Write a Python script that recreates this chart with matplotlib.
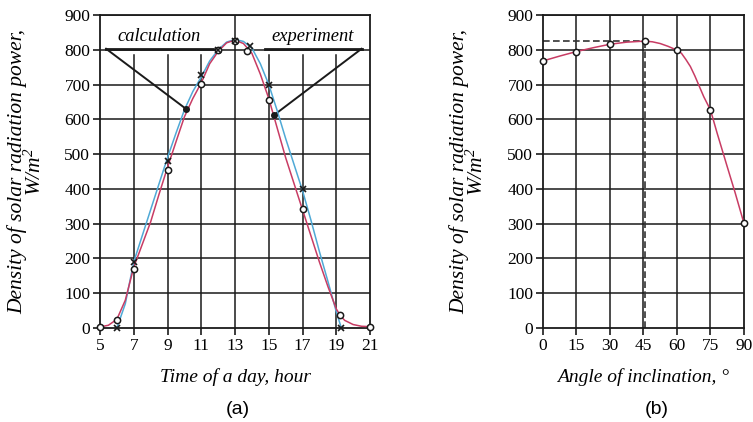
import numpy as np
import matplotlib.pyplot as plt

plt.rcParams['mathtext.fontset'] = 'custom'
plt.rcParams['mathtext.it'] = 'Liberation Serif:italic'
plt.rcParams['mathtext.rm'] = 'Liberation Serif:italic'

# --- panel (a): hourly readings ---
exp_hour = [5, 6, 7, 9, 11, 12, 13, 13.7, 15, 17, 19.24, 21]
exp_power = [3, 22, 170, 455, 701, 800, 825, 797, 655, 342, 37, 4]
calc_hour = [6, 7, 9, 11, 12, 13, 13.9, 15, 17, 19.3]
calc_power = [0, 190, 480, 727, 800, 825, 812, 700, 400, 0]

# traced curves
exp_curve_x = [5, 5.5, 6, 6.5, 7, 7.5, 8, 8.5, 9, 9.5, 10, 10.5, 11, 11.5, 12, 12.5, 13,
               13.5, 14, 14.5, 15, 15.5, 16, 16.5, 17, 17.5, 18, 18.5, 19, 19.25, 19.5, 20, 20.5, 21]
exp_curve_y = [3, 8, 25, 80, 175, 240, 305, 385, 462, 535, 607, 660, 705, 760, 795, 820, 828,
               818, 790, 730, 660, 575, 490, 415, 340, 265, 190, 120, 55, 35, 22, 10, 5, 4]
calc_curve_x = [6, 6.5, 7, 7.5, 8, 8.5, 9, 9.5, 10, 10.5, 11, 11.5, 12, 12.5, 13,
                13.5, 14, 14.5, 15, 15.5, 16, 16.5, 17, 17.5, 18, 18.5, 19, 19.3]
calc_curve_y = [0, 70, 190, 265, 340, 415, 490, 560, 627, 680, 722, 768, 800, 822, 830,
                824, 805, 760, 700, 625, 545, 470, 395, 310, 220, 135, 47, 0]

hour_ticks = [5, 7, 9, 11, 13, 15, 17, 19, 21]
power_ticks = [0, 100, 200, 300, 400, 500, 600, 700, 800, 900]

# --- panel (b): angle of inclination ---
angle = [0, 15, 30, 45.5, 60, 75, 90]
angle_power = [768, 795, 816, 825, 799, 627, 301]
angle_curve_x = [0, 7.5, 15, 22.5, 30, 37.5, 45.5, 49, 52.5, 56, 60, 62, 64, 66, 68, 70,
                 72, 75, 78, 82.5, 86, 90]
angle_curve_y = [768, 782, 795, 806, 816, 822, 825, 823, 818, 810, 799, 790, 772, 752, 725, 695,
                 665, 627, 560, 464, 390, 301]
angle_ticks = [0, 15, 30, 45, 60, 75, 90]
best_angle = 45.5
best_power = 825

RED = '#c83c64'
BLUE = '#4fa9d6'
serif = 'Liberation Serif'

fig = plt.figure(figsize=(7.53, 4.22), dpi=100)
ax1 = fig.add_axes([0.1328, 0.2227, 0.3586, 0.7417])
ax2 = fig.add_axes([0.7211, 0.2227, 0.2669, 0.7417])

grid_kw = dict(color='#1a1a1a', lw=1.1, zorder=1)
ylab = 'Density of solar radiation power,\nW/m$^2$'

def style_axes(ax, xticks, xlim):
    ax.set_xlim(xlim)
    ax.set_ylim(0, 900)
    ax.set_xticks(xticks)
    ax.set_yticks(power_ticks)
    ax.tick_params(direction='out', length=5, width=1.2, color='#1a1a1a',
                   labelsize=12.5, pad=2)
    for lab in ax.get_xticklabels() + ax.get_yticklabels():
        lab.set_fontfamily(serif)
    for s in ax.spines.values():
        s.set_linewidth(1.3)
        s.set_color('#1a1a1a')
    for y in power_ticks[1:]:
        ax.axhline(y, **grid_kw)

# ---------- (a) ----------
style_axes(ax1, hour_ticks, (5, 21))
for x in hour_ticks[1:-1]:
    top = 1.0 if x == 13 else 785 / 900
    ax1.axvline(x, ymax=top, **grid_kw)

ax1.plot(calc_curve_x, calc_curve_y, color=BLUE, lw=1.1, zorder=3)
ax1.plot(exp_curve_x, exp_curve_y, color=RED, lw=1.1, zorder=3)
ax1.plot(exp_hour, exp_power, 'o', ms=4.5, mfc='white', mec='#1a1a1a', mew=1.1, zorder=4,
         clip_on=False)
ax1.plot(calc_hour, calc_power, 'x', ms=4.5, color='#1a1a1a', mew=1.2, zorder=5, clip_on=False)

# annotation leaders
ax1.plot([5.36, 11.7], [803, 803], color='#1a1a1a', lw=2.0, zorder=2)
ax1.plot([5.36, 10.1], [803, 630], color='#1a1a1a', lw=1.4, zorder=2)
ax1.plot([10.1], [630], 'o', ms=4, color='#1a1a1a', zorder=6)
ax1.plot([14.8, 20.5], [803, 803], color='#1a1a1a', lw=2.0, zorder=2)
ax1.plot([20.5, 15.33], [803, 613], color='#1a1a1a', lw=1.4, zorder=2)
ax1.plot([15.33], [613], 'o', ms=4, color='#1a1a1a', zorder=6)
ax1.text(8.5, 815, 'calculation', ha='center', va='bottom', fontsize=13.3,
         family=serif, style='italic', zorder=7)
ax1.text(17.6, 815, 'experiment', ha='center', va='bottom', fontsize=13.3,
         family=serif, style='italic', zorder=7)

ax1.set_xlabel('Time of a day, hour', fontsize=14, family=serif, style='italic', labelpad=10)
ax1.set_ylabel(ylab, fontsize=15.5, family=serif, style='italic', linespacing=0.85)
ax1.yaxis.set_label_coords(-0.2, 0.5)

# ---------- (b) ----------
style_axes(ax2, angle_ticks, (0, 90))
for x in angle_ticks[1:-1]:
    ax2.axvline(x, **grid_kw)
ax2.plot([0, best_angle], [best_power, best_power], ls=(0, (4, 2)), color='#333333', lw=1.2, zorder=2)
ax2.plot([best_angle, best_angle], [0, best_power], ls=(0, (4, 2)), color='#333333', lw=1.2, zorder=2)
ax2.plot(angle_curve_x, angle_curve_y, color=RED, lw=1.1, zorder=3)
ax2.plot(angle, angle_power, 'o', ms=4.5, mfc='white', mec='#1a1a1a', mew=1.1, zorder=4,
         clip_on=False)
ax2.set_xlabel('Angle of inclination, °', fontsize=14, family=serif, style='italic', labelpad=10)
ax2.set_ylabel(ylab, fontsize=15.5, family=serif, style='italic', linespacing=0.85)
ax2.yaxis.set_label_coords(-0.274, 0.5)

fig.text(238 / 753, 1 - 410 / 422, '(a)', ha='center', va='center', fontsize=14,
         family='Liberation Sans')
fig.text(657 / 753, 1 - 410 / 422, '(b)', ha='center', va='center', fontsize=14,
         family='Liberation Sans')

fig.savefig('out.png', dpi=100)
